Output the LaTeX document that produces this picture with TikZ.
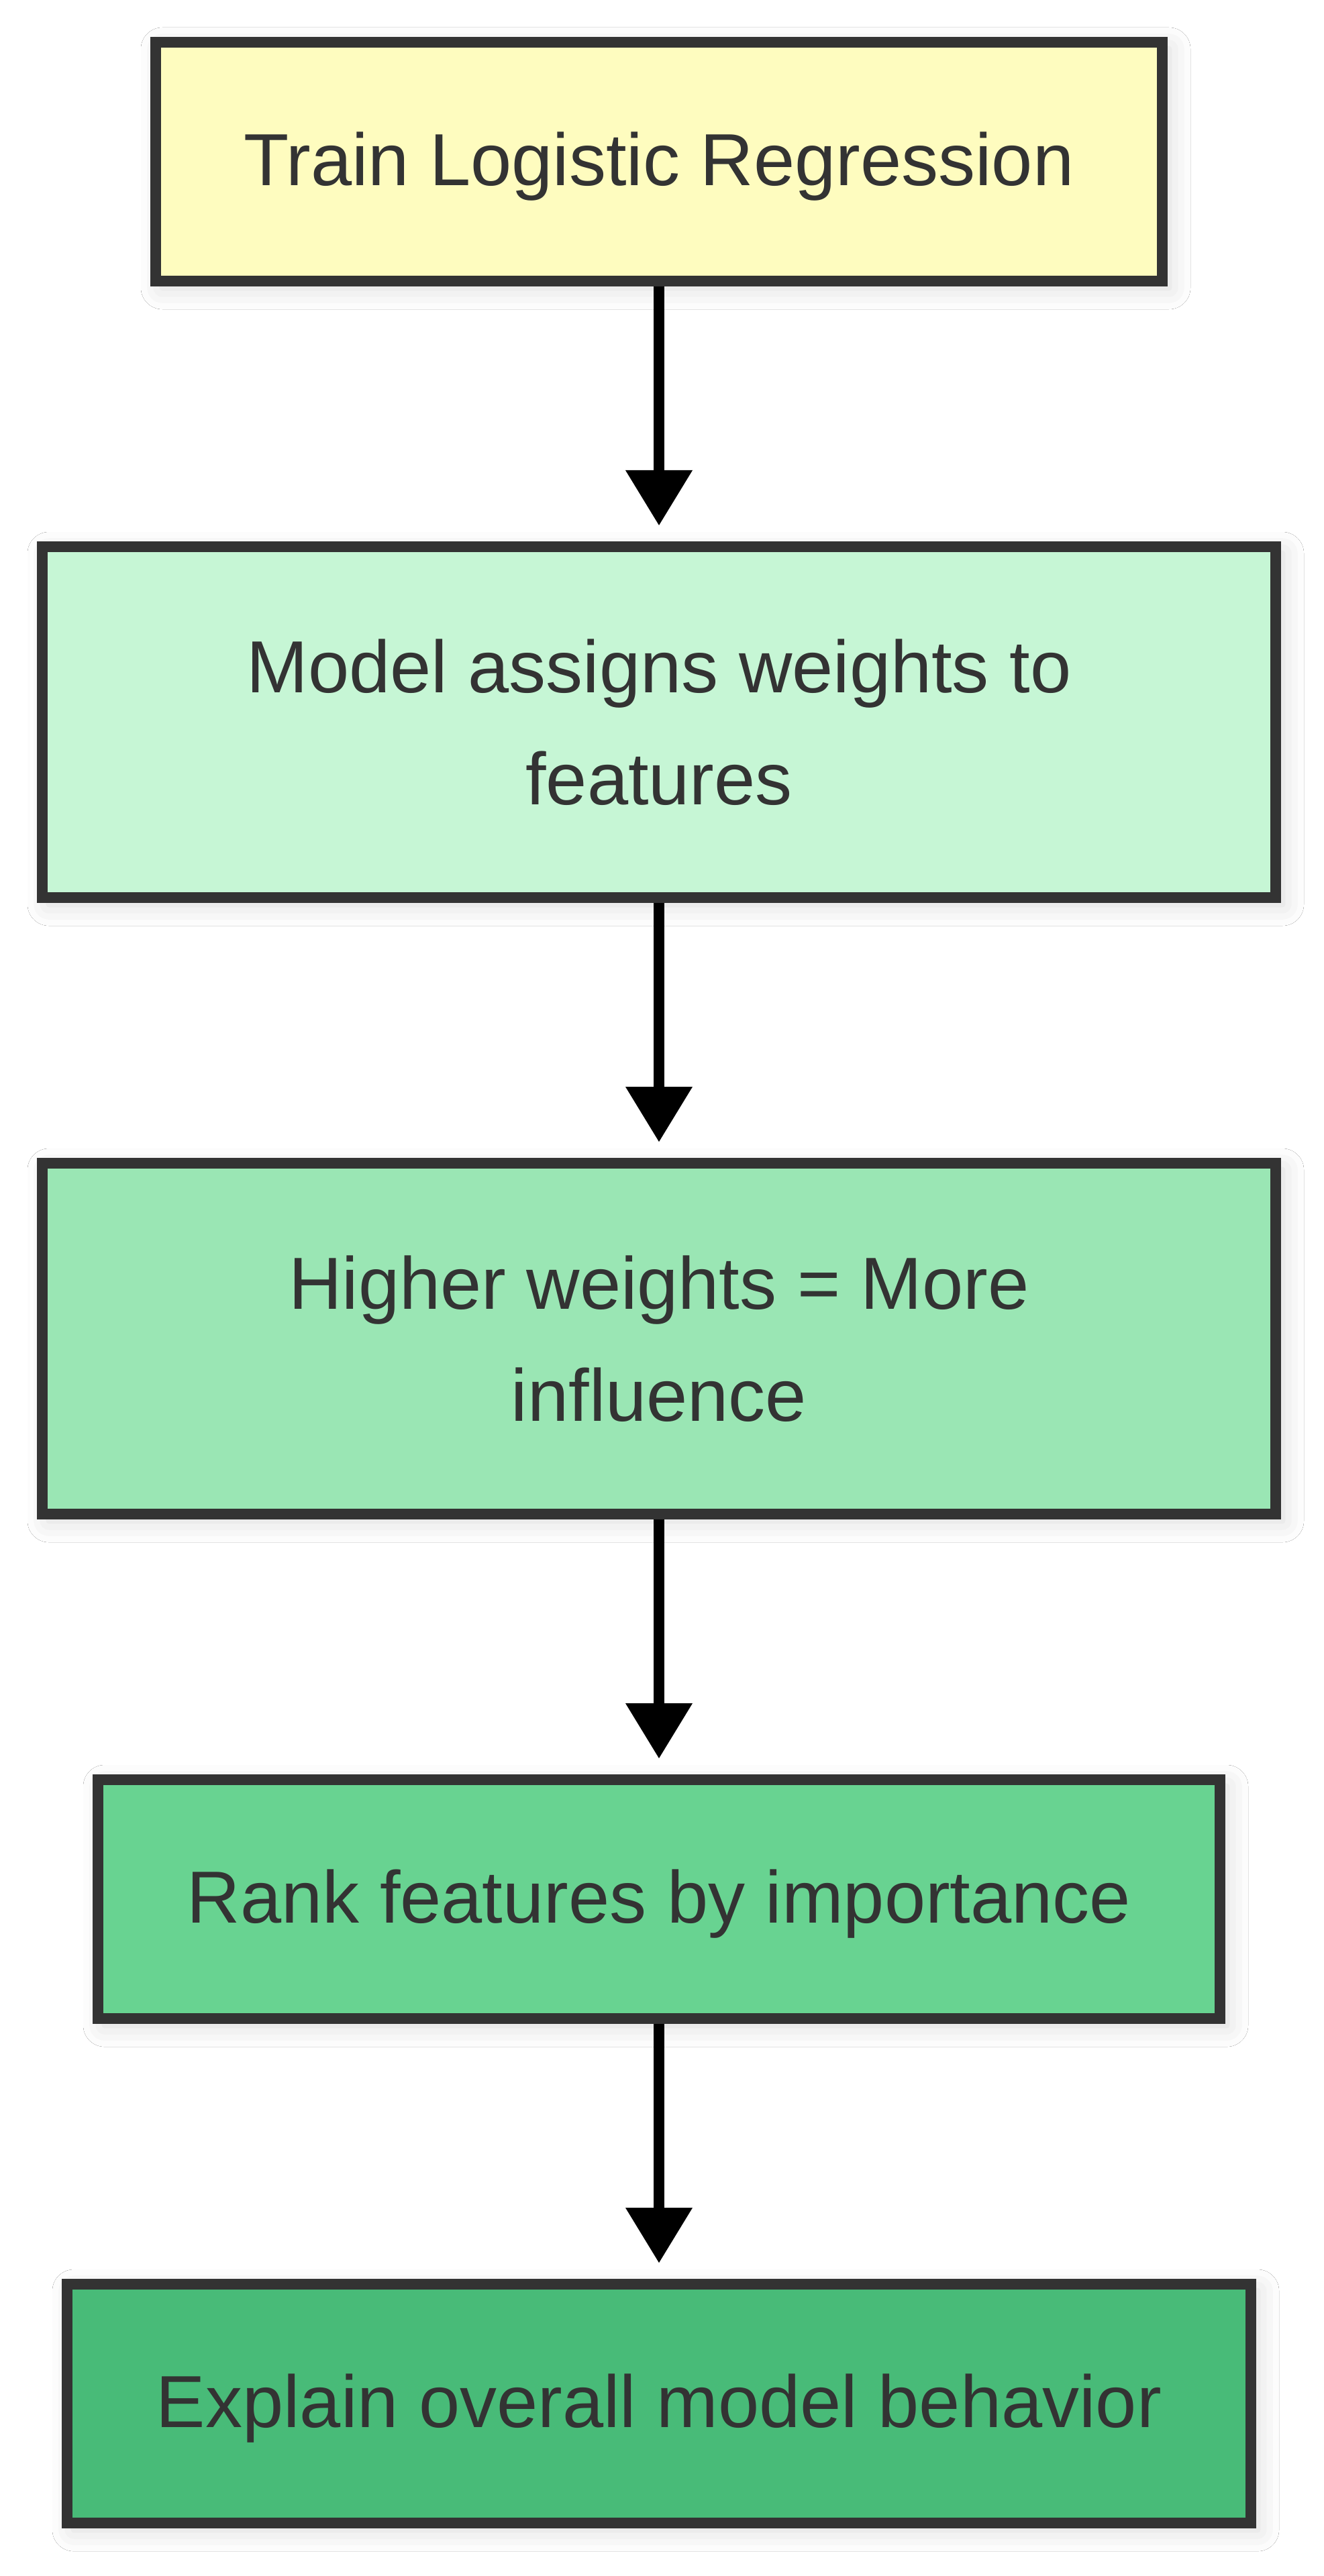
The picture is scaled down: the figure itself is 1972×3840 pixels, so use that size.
\documentclass[tikz,border=0pt]{standalone}
\usepackage{fontspec}
\setmainfont{Liberation Sans}
\usetikzlibrary{arrows.meta,shadows.blur}
\definecolor{ink}{HTML}{333333}
\definecolor{fillA}{HTML}{FEFCBF}
\definecolor{fillB}{HTML}{C6F6D5}
\definecolor{fillC}{HTML}{9AE6B4}
\definecolor{fillD}{HTML}{68D391}
\definecolor{fillE}{HTML}{48BB78}
\tikzset{
  flowbox/.style={draw=ink, line width=4pt, rectangle, inner sep=0pt, align=center,
    text=ink, font=\fontsize{27.5pt}{41.75pt}\selectfont,
    blur shadow={shadow xshift=2.5pt, shadow yshift=-2.5pt, shadow blur radius=8pt, shadow opacity=16}},
  oneline/.style={text height=20.05pt, text depth=2.2pt},
  flowarrow/.style={draw=black, line width=4pt,
    -{Triangle[width=25pt, length=20.5pt, line width=0pt]}}
}
\begin{document}
\begin{tikzpicture}[x=0.25pt, y=-0.25pt]
\useasboundingbox[fill=white] (0,0) rectangle (1972,3840);
\node[flowbox, oneline, fill=fillA, minimum width=375pt, minimum height=89pt] (n1) at (982,241) {Train Logistic Regression};
\node[flowbox, fill=fillB, minimum width=459.5pt, minimum height=130.75pt] (n2) at (982,1076.5) {Model assigns weights to\\features};
\node[flowbox, fill=fillC, minimum width=459.5pt, minimum height=130.75pt] (n3) at (982,1995.5) {Higher weights = More\\influence};
\node[flowbox, oneline, fill=fillD, minimum width=418pt, minimum height=89pt] (n4) at (982,2831) {Rank features by importance};
\node[flowbox, oneline, fill=fillE, minimum width=441pt, minimum height=89pt] (n5) at (982,3583) {Explain overall model behavior};
\draw[flowarrow] (n1.south) -- ([yshift=6pt]n2.north);
\draw[flowarrow] (n2.south) -- ([yshift=6pt]n3.north);
\draw[flowarrow] (n3.south) -- ([yshift=6pt]n4.north);
\draw[flowarrow] (n4.south) -- ([yshift=6pt]n5.north);
\end{tikzpicture}
\end{document}
